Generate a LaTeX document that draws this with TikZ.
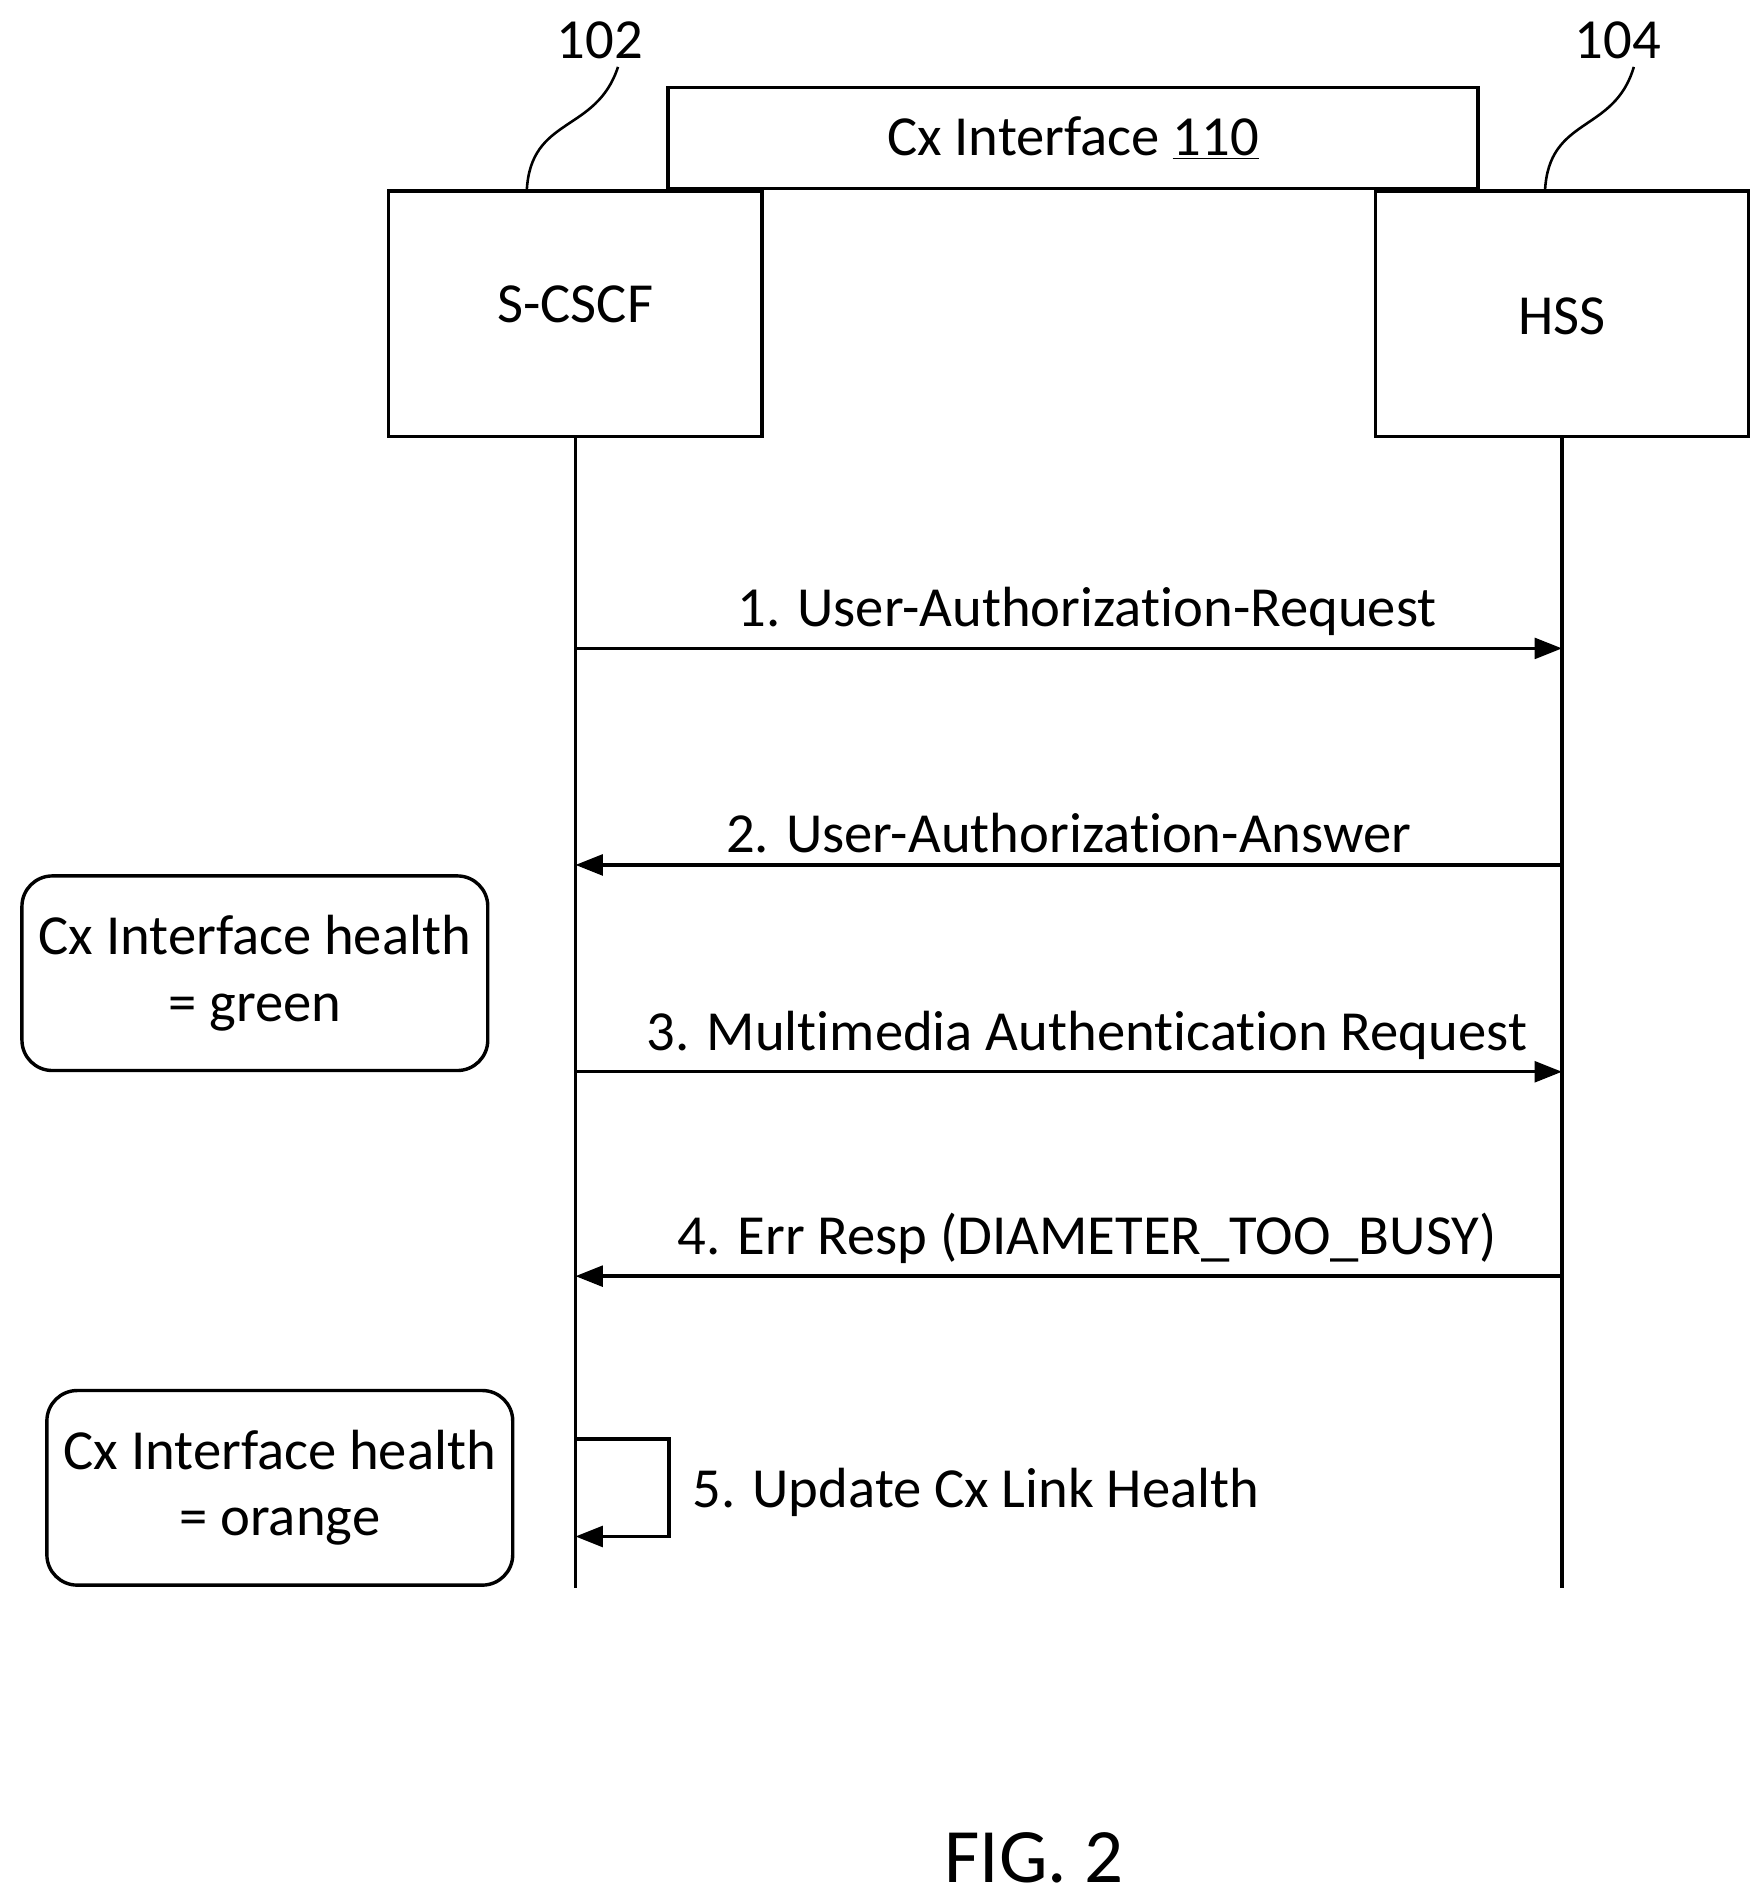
\documentclass[tikz,border=0pt]{standalone}
\usepackage{fontspec}
\setmainfont[Ligatures=NoCommon]{Carlito}
\usetikzlibrary{arrows.meta}

\begin{document}
\begin{tikzpicture}[x=0.02cm,y=-0.02cm,line width=1.6pt,
  font=\fontsize{26.5}{31}\selectfont,
  entity/.style={draw,minimum width=6.14cm,minimum height=4.04cm},
  health/.style={draw,rounded corners=0.5cm,minimum width=7.66cm,
  minimum height=3.2cm,align=center},
  msg/.style={-{Triangle[length=0.45cm,width=0.34cm]}},
  lbl/.style={above,inner sep=5pt}]
  \useasboundingbox (0,0) rectangle (1450,1561);
  \node[entity] (scscf) at (473,258) {};
  \node at (473,250) {S-CSCF};
  \node[entity] (hss) at (1284,258) {};
  \node at (1284,260) {HSS};
  \node[draw,minimum width=13.32cm,minimum height=1.66cm] (cxif) at (882,113.5)
    {Cx Interface \underline{110}};
  \node (n102) at (493,33) {102};
  \node (n104) at (1330,33) {104};
  \draw[line width=1.2pt] (433,157) .. controls (436,95) and (490,110) .. (508,55);
  \draw[line width=1.2pt] (1270,157) .. controls (1273,95) and (1327,110) .. (1343,55);

  % lifelines
  \coordinate (sEnd) at (473,1305);
  \coordinate (hEnd) at (1284,1305);
  \draw (scscf.south) -- (sEnd);
  \draw (hss.south) -- (hEnd);
  \foreach \n/\y in {1/533,2/711,3/881,4/1049}{
    \coordinate (s\n) at (473,\y);
    \coordinate (h\n) at (1284,\y);
  }
  \draw[msg] (s1) -- node[lbl,xshift=0.3cm] {1. User-Authorization-Request} (h1);
  \draw[msg] (h2) -- node[lbl] {2. User-Authorization-Answer} (s2);
  \draw[msg] (s3) -- node[lbl,xshift=0.3cm] {3. Multimedia Authentication Request} (h3);
  \draw[msg] (h4) -- node[lbl,xshift=0.3cm] {4. Err Resp (DIAMETER\_TOO\_BUSY)} (s4);

  % self message
  \coordinate (s5a) at (473,1183);
  \coordinate (s5b) at (473,1263);
  \draw[msg] (s5a) -- (550,1183) -- (550,1263) -- (s5b);
  \node[anchor=west] (upd) at (562,1227) {5. Update Cx Link Health};

  \node[health] (green) at (209.5,800) {Cx Interface health\\= green};
  \node[health] (orange) at (230,1223) {Cx Interface health\\= orange};

  \node[font=\fontsize{36}{42}\selectfont] (fig) at (850,1527) {FIG. 2};
\end{tikzpicture}
\end{document}
